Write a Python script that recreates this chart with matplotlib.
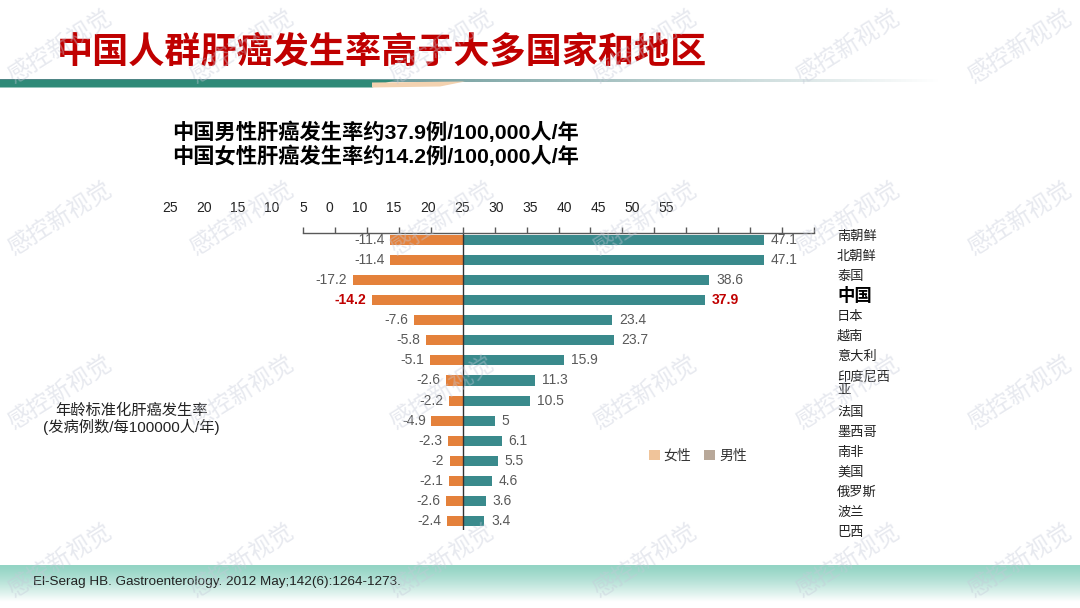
import numpy as np
import matplotlib
matplotlib.use("Agg")
import matplotlib.pyplot as plt
from matplotlib.patches import Patch, Polygon
from matplotlib.colors import to_rgb

# Data
countries = ["南朝鲜", "北朝鲜", "泰国", "中国", "日本", "越南", "意大利", "印度尼西亚",
             "法国", "墨西哥", "南非", "美国", "俄罗斯", "波兰", "巴西"]
female = [11.4, 11.4, 17.2, 14.2, 7.6, 5.8, 5.1, 2.6, 2.2, 4.9, 2.3, 2.0, 2.1, 2.6, 2.4]
male = [47.1, 47.1, 38.6, 37.9, 23.4, 23.7, 15.9, 11.3, 10.5, 5.0, 6.1, 5.5, 4.6, 3.6, 3.4]
top_labels = ["25", "20", "15", "10", "5", "0", "10", "15", "20", "25",
              "30", "35", "40", "45", "50", "55"]

W, H = 1080, 608
CJK = ["Noto Sans CJK SC", "DejaVu Sans"]
NUM = ["Liberation Sans", "Noto Sans CJK SC", "DejaVu Sans"]
plt.rcParams["font.family"] = CJK

female_c = "#E4813B"
male_c = "#3A8A8C"
red = "#C00000"
gray = "#595959"


def fx(x):
    return x / W


def fy(y):
    return 1 - y / H


fig = plt.figure(figsize=(W / 100, H / 100), dpi=100)

# decorative background (header rule, footer band)
bg = fig.add_axes([0, 0, 1, 1], zorder=-1)
bg.set_xlim(0, W)
bg.set_ylim(H, 0)
bg.axis("off")

# thin header line fading to the right
n = 200
line = np.ones((1, n, 4))
line[0, :, :3] = to_rgb("#4E8585")
line[0, :, 3] = np.clip(np.linspace(1.4, -0.1, n), 0, 1)
bg.imshow(line, extent=[0, 1010, 82, 79.5], aspect="auto", interpolation="bilinear")
bg.add_patch(Polygon([(0, 80), (395, 80), (372, 87.5), (0, 87.5)], closed=True,
                     facecolor="#2F8A78", edgecolor="none"))
bg.add_patch(Polygon([(372, 82.5), (465, 81.5), (440, 86.5), (372, 87.5)], closed=True,
                     facecolor="#F3D2B0", edgecolor="none"))

# footer gradient band
m = 60
band = np.ones((m, 1, 3))
top = np.array(to_rgb("#93D4C4"))
for i in range(m):
    t = (i / (m - 1)) ** 1.3
    band[i, 0] = top * (1 - t) + np.ones(3) * t
bg.imshow(band, extent=[0, W, 602, 565], aspect="auto", interpolation="bilinear")

# main chart axes: x from -25 to 55
x0, x1 = 303, 814
ytop, ybot = 233, 530
ax = fig.add_axes([fx(x0), fy(ybot), (x1 - x0) / W, (ybot - ytop) / H])
ax.set_facecolor("none")
rows = np.arange(len(countries))
ax.barh(rows, [-v for v in female], height=0.5, color=female_c)
ax.barh(rows, male, height=0.5, color=male_c)
ax.axvline(0, color="#333333", lw=1)
ax.set_xlim(-25, 55)
ax.set_ylim(14.45, -0.35)
ax.xaxis.tick_top()
ax.set_xticks(np.arange(-25, 56, 5))
ax.tick_params(axis="x", direction="out", length=4, width=1, color=gray,
               labeltop=False, labelbottom=False)
ax.set_yticks([])
for s in ["left", "right", "bottom"]:
    ax.spines[s].set_visible(False)
ax.spines["top"].set_color(gray)
ax.spines["top"].set_linewidth(1)

for i, (f, mv) in enumerate(zip(female, male)):
    china = countries[i] == "中国"
    col = red if china else gray
    wt = "bold" if china else "normal"
    ax.annotate("-%g" % f, (-f, i), xytext=(-4, 0), textcoords="offset points",
                ha="right", va="center", fontsize=10, color=col, weight=wt, family=NUM)
    ax.annotate("%g" % mv, (mv, i), xytext=(5, 0), textcoords="offset points",
                ha="left", va="center", fontsize=10, color=col, weight=wt, family=NUM)

# country names on the right
tr = ax.get_yaxis_transform()
shift = -0.2
lx = (837 - x0) / (x1 - x0)
for i, name in enumerate(countries):
    if name == "中国":
        ax.text(lx, i + shift, name, transform=tr, ha="left", va="center",
                fontsize=12.5, weight="bold", color="black")
    elif len(name) > 4:
        ax.text(lx, i + shift + 0.37, name[:4] + "\n" + name[4:], transform=tr,
                ha="left", va="center", fontsize=9.5, color="#222222", linespacing=1.0)
        shift += 0.77
    else:
        ax.text(lx, i + shift, name, transform=tr, ha="left", va="center",
                fontsize=9.5, color="#222222")

# misaligned tick labels printed above the axis
label_x = [170, 204, 238, 272, 303, 329, 360, 394, 428, 462, 496, 530, 564, 598, 632, 666]
for x, lab in zip(label_x, top_labels):
    fig.text(fx(x), fy(208), lab, ha="center", va="center", fontsize=10,
             color="#222222", family=NUM)

# legend
handles = [Patch(facecolor="#F0C49A", label="女性"), Patch(facecolor="#B8A899", label="男性")]
leg = ax.legend(handles=handles, loc="center left", bbox_to_anchor=(fx(636), fy(456)),
                bbox_transform=fig.transFigure, ncol=2, frameon=False, handlelength=0.8,
                handleheight=0.8, handletextpad=0.3, columnspacing=0.9, fontsize=10)
for t in leg.get_texts():
    t.set_color("#333333")

# titles and notes
fig.text(fx(57), fy(52), "中国人群肝癌发生率高于大多国家和地区", ha="left", va="center",
         fontsize=26, weight="heavy", color=red)
fig.text(fx(172), fy(132), "中国男性肝癌发生率约37.9例/100,000人/年", ha="left",
         va="center", fontsize=15.3, weight="bold", color="black", family=NUM)
fig.text(fx(172), fy(156), "中国女性肝癌发生率约14.2例/100,000人/年", ha="left",
         va="center", fontsize=15.3, weight="bold", color="black", family=NUM)
fig.text(fx(131), fy(410), "年龄标准化肝癌发生率", ha="center", va="center",
         fontsize=11, color="#222222")
fig.text(fx(131), fy(427), "(发病例数/每100000人/年)", ha="center", va="center",
         fontsize=11, color="#222222", family=NUM)
fig.text(fx(33), fy(582), "El-Serag HB. Gastroenterology. 2012 May;142(6):1264-1273.",
         ha="left", va="center", fontsize=9.7, color="#222222",
         family=["Liberation Sans Narrow", "Liberation Sans", "DejaVu Sans"])

# watermark
for wy in [46, 218, 392, 560]:
    for wx in [60, 242, 442, 645, 848, 1020]:
        fig.text(fx(wx), fy(wy), "感控新视觉", ha="center", va="center",
                 fontsize=17, rotation=32, color="#C4C9D8", alpha=0.4,
                 weight="light", zorder=10)

fig.savefig("out.png", dpi=100)
